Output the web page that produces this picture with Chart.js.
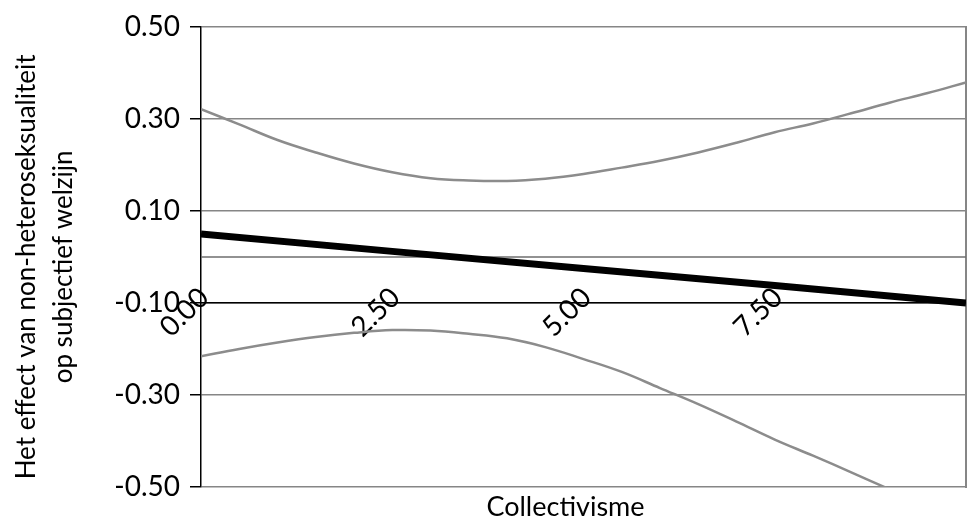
<!DOCTYPE html>
<html><head><meta charset="utf-8">
<script src="https://cdn.jsdelivr.net/npm/chart.js@4"></script>
<style>html,body{margin:0;padding:0;background:#fff}#wrap{width:970px;height:517px}</style>
</head><body><div id="wrap"><canvas id="c" width="970" height="517"></canvas></div>
<script>
const xTicks = [0, 2.5, 5, 7.5];
const yTicks = [-0.5, -0.3, -0.1, 0.1, 0.3, 0.5];
const xTitle = 'Collectivisme';
const yTitle = ['Het effect van non-heteroseksualiteit', 'op subjectief welzijn'];

const effectX = [0, 2.5, 5, 7.5, 10];
const effect = [0.050, 0.012, -0.025, -0.062, -0.100];

const ciX = [0, 0.5, 1, 1.5, 2, 2.5, 3, 3.5, 4, 4.5, 5, 5.5, 6, 6.5, 7, 7.5, 8, 8.5, 9, 9.5, 10];
const upperCI = [0.321, 0.288, 0.254, 0.227, 0.203, 0.184, 0.171, 0.166, 0.165, 0.170, 0.180, 0.194, 0.209, 0.227, 0.248, 0.271, 0.290, 0.312, 0.335, 0.356, 0.379];
const lowerCI = [-0.216, -0.200, -0.186, -0.174, -0.165, -0.159, -0.160, -0.167, -0.177, -0.196, -0.222, -0.250, -0.285, -0.320, -0.358, -0.397, -0.432, -0.468, -0.505, -0.541, -0.579];

const zeroX = [0, 10];
const zeroY = [0, 0];

const pts = (xs, ys) => xs.map((x, i) => ({x: x, y: ys[i]}));
const FONT = 'Lato';
Chart.defaults.font.family = FONT;
Chart.defaults.color = '#000';

// Nudge the axis titles to where the original places them
const titleShift = {
  id: 'titleShift',
  afterLayout(chart) {
    const s = chart.scales.x2;
    s.left -= 18; s.right -= 18;
    const t = chart.scales.yT;
    t.top += 10; t.bottom += 10;
  }
};

const lineDs = (label, xs, ys, color, width, tension, order) => ({
  label: label, data: pts(xs, ys), xAxisID: 'x', yAxisID: 'y',
  borderColor: color, borderWidth: width, pointRadius: 0, tension: tension, order: order
});

new Chart(document.getElementById('c'), {
  type: 'line',
  data: {
    datasets: [
      lineDs('Effect', effectX, effect, '#000', 7, 0, 0),
      lineDs('Upper', ciX, upperCI, '#8c8c8c', 2.5, 0.4, 1),
      lineDs('Lower', ciX, lowerCI, '#8c8c8c', 2.5, 0.4, 1),
      lineDs('Zero', zeroX, zeroY, '#6e6e6e', 1.5, 0, 2)
    ]
  },
  plugins: [titleShift],
  options: {
    responsive: false,
    animation: false,
    devicePixelRatio: 1,
    layout: {padding: {top: 19, left: 0, right: 0, bottom: 0}},
    plugins: {legend: {display: false}, tooltip: {enabled: false}},
    scales: {
      x: {
        type: 'linear', min: 0, max: 10, position: {y: -0.1},
        afterBuildTicks: s => { s.ticks = xTicks.map(v => ({value: v})); },
        ticks: {autoSkip: false, minRotation: 45, maxRotation: 45, font: {size: 28}, color: '#000', padding: -22, labelOffset: 3, callback: v => Number(v).toFixed(2)},
        grid: {display: true, color: 'rgba(0,0,0,0)', drawTicks: false},
        border: {color: '#000', width: 1.5}
      },
      x2: {
        type: 'linear', min: 0, max: 10, position: 'bottom',
        afterFit: s => { s.height = 30; },
        ticks: {display: false},
        grid: {display: false, drawTicks: false},
        border: {display: false},
        title: {display: true, text: xTitle, font: {size: 27, lineHeight: 1}, color: '#000', padding: {top: 0, bottom: -3.5}}
      },
      y: {
        type: 'linear', min: -0.5, max: 0.5, position: 'left', weight: 0,
        afterBuildTicks: s => { s.ticks = yTicks.map(v => ({value: v})); },
        afterFit: s => { s.width = 111; },
        ticks: {font: {size: 28}, color: '#000', padding: 10, callback: v => Number(v).toFixed(2)},
        grid: {color: '#868686', lineWidth: 1.5, tickColor: '#000', tickLength: 11, drawTicks: true},
        border: {color: '#000', width: 1.5}
      },
      yT: {
        type: 'linear', min: -0.5, max: 0.5, position: 'left', weight: 1,
        afterFit: s => { s.width = 90; },
        ticks: {display: false},
        grid: {display: false, drawTicks: false},
        border: {display: false},
        title: {display: true, text: yTitle, font: {size: 26, lineHeight: 1.42}, color: '#000', padding: {top: 8, bottom: 0}}
      },
      y2: {
        type: 'linear', min: -0.5, max: 0.5, position: 'right',
        afterFit: s => { s.width = 4; },
        ticks: {display: false},
        grid: {display: false, drawTicks: false},
        border: {color: '#868686', width: 2}
      }
    }
  }
});
</script>
</body></html>
